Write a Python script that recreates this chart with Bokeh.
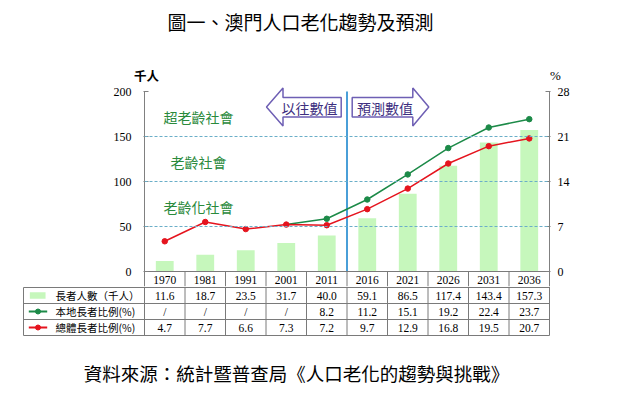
from bokeh.plotting import figure
from bokeh.models import Range1d, LinearAxis, Span, FixedTicker
from bokeh.layouts import column
from bokeh.embed import file_html
from bokeh.resources import INLINE
from bokeh.core.properties import value

# ---------------- data ----------------
years = ["1970", "1981", "1991", "2001", "2011", "2016", "2021", "2026", "2031", "2036"]
elderly = [11.6, 18.7, 23.5, 31.7, 40.0, 59.1, 86.5, 117.4, 143.4, 157.3]
local_pct = [None, None, None, None, 8.2, 11.2, 15.1, 19.2, 22.4, 23.7]
total_pct = [4.7, 7.7, 6.6, 7.3, 7.2, 9.7, 12.9, 16.8, 19.5, 20.7]
left_ticks = [0, 50, 100, 150, 200]
right_ticks = [0, 7, 14, 21, 28]
thresholds = [50, 100, 150]
society_labels = ["老齡化社會", "老齡社會", "超老齡社會"]
row_labels = ["長者人數（千人）", "本地長者比例(%)", "總體長者比例(%)"]
title_text = "圖一、澳門人口老化趨勢及預測"
left_unit = "千人"
right_unit = "%"
source_text = "資料來源：統計暨普查局《人口老化的趨勢與挑戰》"
past_label = "以往數值"
future_label = "預測數值"
n_past = 5

# ---------------- styles ----------------
BAR = "#c6f7bc"
GREEN = "#1c8a48"
RED = "#e5141e"
GRID = "#6aaec8"
DIVIDER = "#4a9fd8"
ARROW = "#6e5fb4"
ARROW_TXT = "#3e2f80"
SOC = "#2a8a3c"
TABLE_LINE = "#7a7a7a"
AXIS = "#808080"
SERIF = "Liberation Serif"
CJK = "Noto Sans CJK TC"

W = 616
PX = 40.5            # px per category
PY = 0.9             # px per left-axis unit
ROW = 16.0           # table row height (px)
FRAME_L, FRAME_R = 144, 549
TOP_H = 84           # top band height
Y0 = 271             # pixel row of value 0
MAIN_BOTTOM = 286    # bottom of main figure
TABLE_H = 105
LMAX = left_ticks[-1]
RMAX = right_ticks[-1]

def X(px):
    return (px - FRAME_L) / PX

def Y(py):
    return (Y0 - py) / PY

def TY(py):
    return (py - Y0) / ROW

xs = [i + 0.5 for i in range(len(years))]
n = len(years)

def base_fig(**kw):
    f = figure(output_backend="svg", toolbar_location=None, **kw)
    f.outline_line_color = None
    f.grid.visible = False
    f.background_fill_color = "white"
    f.border_fill_color = "white"
    f.frame_align = False
    return f

# ---------------- top band (title and units) ----------------
top = base_fig(frame_width=W, frame_height=TOP_H, x_range=Range1d(0, W),
               y_range=Range1d(TOP_H, 0), x_axis_location=None, y_axis_location=None,
               min_border_left=0, min_border_right=0, min_border_top=0, min_border_bottom=0)
top.text(x=[300], y=[21], text=[title_text], text_align="center", text_baseline="middle",
         text_font=value(CJK), text_font_size="19px", text_color="black")
top.text(x=[146], y=[74.5], text=[left_unit], text_align="center", text_baseline="middle",
         text_font=value(CJK), text_font_size="12.5px", text_font_style="bold",
         text_color="black")
top.text(x=[555], y=[75], text=[right_unit], text_align="center", text_baseline="middle",
         text_font=value(SERIF), text_font_size="13px", text_color="black")

# ---------------- main chart ----------------
FH = MAIN_BOTTOM - TOP_H
y_lo, y_hi = Y(MAIN_BOTTOM), Y(TOP_H)
p = base_fig(frame_width=FRAME_R - FRAME_L, frame_height=FH,
             x_range=Range1d(0, n), y_range=Range1d(y_lo, y_hi),
             x_axis_location=None, y_axis_location="left",
             min_border_left=FRAME_L, min_border_right=W - FRAME_R,
             min_border_top=0, min_border_bottom=0)

k = RMAX / LMAX
p.extra_y_ranges = {"pct": Range1d(y_lo * k, y_hi * k)}
rax = LinearAxis(y_range_name="pct")
p.add_layout(rax, "right")

for ax, ticks, lo, hi in [(p.yaxis[0], left_ticks, y_lo, LMAX),
                          (rax, right_ticks, y_lo * k, RMAX)]:
    ax.ticker = FixedTicker(ticks=ticks)
    ax.bounds = (lo, hi)
    ax.major_tick_in = 4
    ax.major_tick_out = 1
    ax.minor_tick_line_color = None
    ax.axis_line_color = AXIS
    ax.major_tick_line_color = AXIS
    ax.major_label_text_font = SERIF
    ax.major_label_text_font_size = "12px"
    ax.major_label_text_color = "black"
p.yaxis[0].major_label_standoff = 12
rax.major_label_standoff = 7

# bars
p.vbar(x=xs, top=elderly, width=0.44, bottom=0, fill_color=BAR, line_color=None)

# threshold lines
for t_ in thresholds:
    p.add_layout(Span(location=t_, dimension="width", line_color=GRID,
                      line_dash="3 2", line_width=1))

# divider past / forecast
p.segment(x0=[n_past], y0=[0], x1=[n_past], y1=[LMAX], line_color=DIVIDER, line_width=2)

# green line (joins from the 2001 overall ratio)
first = next(i for i, v in enumerate(local_pct) if v is not None)
gx = [xs[first - 1]] + xs[first:]
gy = [total_pct[first - 1]] + local_pct[first:]
p.line(gx, gy, y_range_name="pct", line_color=GREEN, line_width=1.5)
p.scatter(xs[first:], local_pct[first:], y_range_name="pct", size=5.5,
          fill_color=GREEN, line_color=GREEN)

# red line
p.line(xs, total_pct, y_range_name="pct", line_color=RED, line_width=1.5)
p.scatter(xs, total_pct, y_range_name="pct", size=5.5, fill_color=RED, line_color=RED)

# society labels
bands = thresholds + [LMAX]
soc_y = [(bands[i] + bands[i + 1]) / 2 - 3 for i in range(len(thresholds))]
p.text(x=[X(198)] * 3, y=soc_y, text=society_labels, text_align="center",
       text_baseline="middle", text_color=SOC, text_font=value(CJK),
       text_font_size="14px")

# arrows
cy = 106.5
left_arrow = [(266, cy), (282.5, 87.5), (282.5, 97), (340.7, 97), (340.7, 116.5),
              (282.5, 116.5), (282.5, 125.5)]
right_arrow = [(428.3, cy), (412.3, 87.5), (412.3, 97), (351.7, 97), (351.7, 116.5),
               (412.3, 116.5), (412.3, 125.5)]
for arr in (left_arrow, right_arrow):
    p.patch([X(a) for a, b in arr], [Y(b) for a, b in arr], fill_color="white",
            line_color=ARROW, line_width=1.5)
p.text(x=[X(309), X(384.6)], y=[Y(107), Y(107)], text=[past_label, future_label],
       text_align="center", text_baseline="middle", text_color=ARROW_TXT,
       text_font=value(CJK), text_font_size="14px")

# year row of the table (inside the main chart, below zero)
p.segment(x0=[0], y0=[0], x1=[n], y1=[0], line_color=TABLE_LINE, line_width=1)
p.segment(x0=list(range(1, n)), y0=[0] * (n - 1), x1=list(range(1, n)),
          y1=[y_lo] * (n - 1), line_color=TABLE_LINE, line_width=1)
p.text(x=xs, y=[Y(279.5)] * n, text=years, text_align="center", text_baseline="middle",
       text_font=value(SERIF), text_font_size="11.5px", text_color="black")

# ---------------- data table ----------------
LW = (FRAME_L - 22) / PX
t = base_fig(frame_width=FRAME_R + 1 - 22, frame_height=TABLE_H,
             x_range=Range1d(-LW, n + 1 / PX),
             y_range=Range1d(TY(MAIN_BOTTOM + TABLE_H), TY(MAIN_BOTTOM)),
             x_axis_location=None, y_axis_location=None,
             min_border_left=22, min_border_right=W - FRAME_R - 1,
             min_border_top=0, min_border_bottom=0)

left_edge = X(23)
nrow = 4
hy = [1, 2, 3, 4]
t.segment(x0=[left_edge] * 4, y0=hy, x1=[n] * 4, y1=hy, line_color=TABLE_LINE, line_width=1)
vx = list(range(n + 1)) + [left_edge]
t.segment(x0=vx, y0=[TY(MAIN_BOTTOM)] * (n + 1) + [1], x1=vx,
          y1=[nrow] * (n + 2), line_color=TABLE_LINE, line_width=1)

fmt = lambda v: "/" if v is None else f"{v:.1f}"
rows = [[fmt(v) for v in elderly], [fmt(v) for v in local_pct],
        [fmt(v) for v in total_pct]]
for r, vals in enumerate(rows):
    t.text(x=xs, y=[r + 1.5] * n, text=vals, text_align="center",
           text_baseline="middle", text_font=value(SERIF), text_font_size="11.5px",
           text_color="black")

# legend keys
t.rect(x=[X(37.2)], y=[1.5], width=15.7 / PX, height=6.5 / ROW, fill_color=BAR,
       line_color=None)
for r, col in [(2, GREEN), (3, RED)]:
    t.segment(x0=[X(28.3)], y0=[r + 0.5], x1=[X(46.7)], y1=[r + 0.5], line_color=col,
              line_width=2)
    t.scatter([X(37.5)], [r + 0.5], size=5, fill_color=col, line_color=col)
t.text(x=[X(55)] * 3, y=[1.5, 2.5, 3.5], text=row_labels, text_align="left",
       text_baseline="middle", text_font=value(CJK), text_font_size="10.5px",
       text_color="black")

# source
t.text(x=[X(296)], y=[TY(372)], text=[source_text], text_align="center",
       text_baseline="middle", text_font=value(CJK), text_font_size="18.5px",
       text_color="black")

layout = column(top, p, t, spacing=0)
open("out.html", "w").write(file_html(layout, INLINE))
